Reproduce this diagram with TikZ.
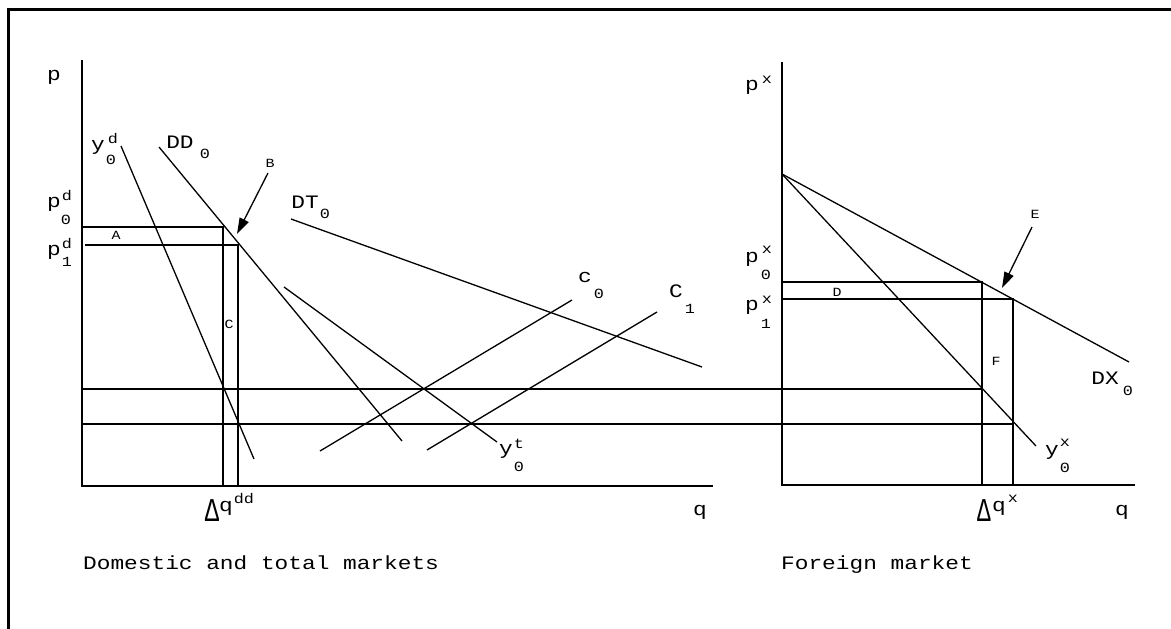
\documentclass[tikz,border=0pt]{standalone}
\usepackage{graphicx}
\usepackage{fontspec}
\newfontfamily\plotfont[FakeStretch=1.2]{Liberation Mono}
\usetikzlibrary{arrows.meta}
\begin{document}
\begin{tikzpicture}[x=1pt,y=-1pt,
  curve/.style={line width=1.3pt},
  axis/.style={line width=1.8pt},
  guide/.style={line width=1.3pt},
  frame/.style={line width=3pt,line join=miter},
  pointer/.style={line width=1.3pt,-{Triangle[length=16pt,width=10pt]}},
  big/.style={inner sep=0pt,anchor=base,font=\plotfont\fontsize{19}{22}\selectfont},
  small/.style={inner sep=0pt,anchor=base,font=\plotfont\fontsize{14}{16}\selectfont},
  tiny/.style={inner sep=0pt,anchor=base,font=\plotfont\fontsize{12.5}{14}\selectfont},
]
\useasboundingbox (0,0) rectangle (1171,629);
% frame
\coordinate (TR) at (1171,9); \coordinate (TL) at (8,9); \coordinate (BL) at (8,629);
\draw[frame] (TR) -- (TL) -- (BL);

% ---------- left panel ----------
\coordinate (Ltop) at (82,60); \coordinate (Lo) at (82,486); \coordinate (Lend) at (713,486);
\draw[axis] (Ltop) -- (Lo) -- (Lend);

\coordinate (yd1) at (121,146); \coordinate (yd2) at (254,459);
\coordinate (dd1) at (159,147); \coordinate (dd2) at (402,441);
\coordinate (yt1) at (284,287); \coordinate (yt2) at (497,442);
\coordinate (dt1) at (291,219); \coordinate (dt2) at (702,367);
\coordinate (c01) at (320,451); \coordinate (c02) at (572,300);
\coordinate (c11) at (427,450); \coordinate (c12) at (657,312);
\draw[curve] (yd1) -- (yd2);
\draw[curve] (dd1) -- (dd2);
\draw[curve] (yt1) -- (yt2);
\draw[curve] (dt1) -- (dt2);
\draw[curve] (c01) -- (c02);
\draw[curve] (c11) -- (c12);

\coordinate (pd0a) at (82,227); \coordinate (pd0b) at (223,227); \coordinate (q0b) at (223,486);
\coordinate (pd1a) at (85,245); \coordinate (pd1b) at (238,245); \coordinate (q1b) at (238,486);
\draw[guide] (pd0a) -- (pd0b) -- (q0b);
\draw[guide] (pd1a) -- (pd1b) -- (q1b);

% long horizontals
\coordinate (h1a) at (82,389); \coordinate (h1b) at (982,389);
\coordinate (h2a) at (82,424); \coordinate (h2b) at (1013,424);
\draw[guide] (h1a) -- (h1b);
\draw[guide] (h2a) -- (h2b);

% arrow B
\coordinate (Btail) at (268,173); \coordinate (Btip) at (237,234);
\draw[pointer] (Btail) -- (Btip);

% left labels
\node[big] (lp) at (54,80) {p};
\node[big] (ydy) at (98,150) {y};
\node[small] (ydd) at (113,143) {d};
\node[small] (yd0) at (111,164) {0};
\node[big] (ddl) at (180,148) {DD};
\node[small] (dd0) at (205,158) {0};
\node[tiny] (lB) at (270,167) {B};
\node[big] (dtl) at (305,208) {DT};
\node[small] (dt0) at (325,218) {0};
\node[big] (pd0p) at (54,207) {p};
\node[small] (pd0d) at (67,200) {d};
\node[small] (pd00) at (66,224) {0};
\node[big] (pd1p) at (54,255) {p};
\node[small] (pd1d) at (67,248) {d};
\node[small] (pd11) at (67,266) {1};
\node[tiny] (lA) at (116,239) {A};
\node[tiny] (lC) at (229,328) {C};
\node[big] (c0c) at (585,282) {c};
\node[small] (c00) at (599,298) {0};
\node[big] (c1c) at (676,297) {C};
\node[small] (c11l) at (690,313) {1};
\node[big] (yty) at (506,454) {y};
\node[small] (ytt) at (519,448) {t};
\node[small] (yt0) at (519,471) {0};
\node[big] (lq) at (700,515) {q};
\node[big,anchor=south] (dld) at (212,522) {\scalebox{1.05}[1.75]{Δ}};
\node[big] (dlq) at (226,511) {q};
\node[small] (dldd) at (244,503) {dd};
\node[big,anchor=base west] (ltitle) at (83,569) {Domestic and total markets};

% ---------- right panel ----------
\coordinate (Rtop) at (782,62); \coordinate (Ro) at (782,485); \coordinate (Rend) at (1135,485);
\draw[axis] (Rtop) -- (Ro) -- (Rend);
\coordinate (Rint) at (782,174);
\coordinate (dx2) at (1129,362);
\coordinate (yx2) at (1036,446);
\draw[curve] (Rint) -- (dx2);
\draw[curve] (Rint) -- (yx2);

\coordinate (px0a) at (782,282); \coordinate (px0b) at (982,282); \coordinate (qx0b) at (982,485);
\coordinate (px1a) at (782,299); \coordinate (px1b) at (1013,299); \coordinate (qx1b) at (1013,485);
\draw[guide] (px0a) -- (px0b) -- (qx0b);
\draw[guide] (px1a) -- (px1b) -- (qx1b);

\coordinate (Etail) at (1032,227); \coordinate (Etip) at (1002,288);
\draw[pointer] (Etail) -- (Etip);

\node[big] (rp) at (752,90) {p};
\node[small] (rpx) at (767,83) {x};
\node[big] (px0p) at (752,262) {p};
\node[small] (px0x) at (767,253) {x};
\node[small] (px00) at (766,279) {0};
\node[big] (px1p) at (752,310) {p};
\node[small] (px1x) at (767,303) {x};
\node[small] (px11) at (766,328) {1};
\node[tiny] (lD) at (837,296) {D};
\node[tiny] (lE) at (1035,218) {E};
\node[tiny] (lF) at (996,365) {F};
\node[big] (dxl) at (1105,384) {DX};
\node[small] (dx0) at (1128,395) {0};
\node[big] (yxy) at (1052,455) {y};
\node[small] (yxx) at (1065,446) {x};
\node[small] (yx0) at (1065,472) {0};
\node[big,anchor=south] (dxd) at (984,522) {\scalebox{1.0}[1.75]{Δ}};
\node[big] (dxq) at (999,511) {q};
\node[small] (dxx) at (1013,502) {x};
\node[big] (rq) at (1122,515) {q};
\node[big,anchor=base west] (rtitle) at (781,569) {Foreign market};
\end{tikzpicture}
\end{document}
